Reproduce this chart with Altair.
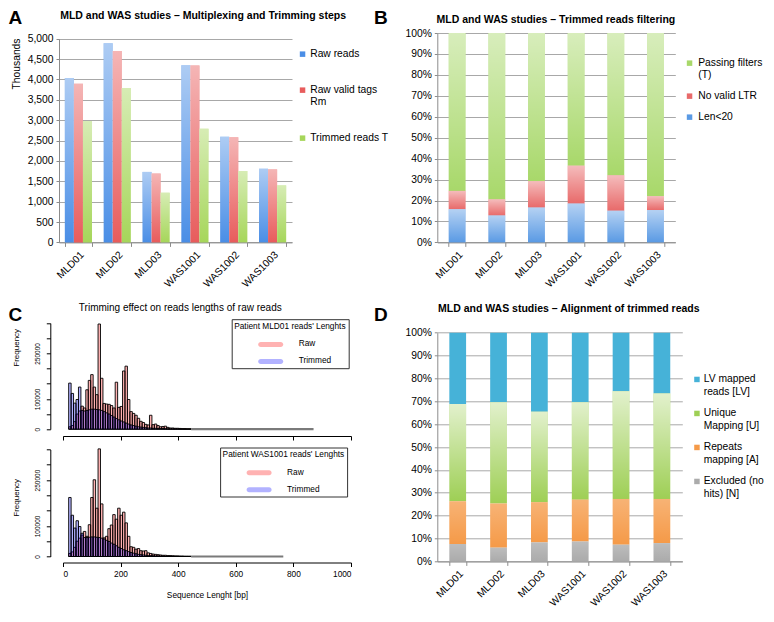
import altair as alt
import pandas as pd

FONT = "Liberation Sans"

samples = ["MLD01", "MLD02", "MLD03", "WAS1001", "WAS1002", "WAS1003"]

# ---------- Panel A (thousands of reads) ----------
raw_reads = [4033, 4890, 1730, 4347, 2594, 1808]
raw_valid_tags = [3892, 4701, 1690, 4340, 2579, 1792]
trimmed_reads = [2972, 3789, 1219, 2791, 1753, 1399]
a_series = ["Raw reads", "Raw valid tags Rm", "Trimmed reads T"]
a_colors = ["#4A8EE6", "#E85C5C", "#A6D65A"]

# ---------- Panel B (% of trimmed reads) ----------
len_lt20 = [15.8, 12.8, 16.6, 18.5, 15.1, 15.4]
no_valid_ltr = [8.8, 7.7, 12.6, 18.1, 16.9, 6.6]
passing_filters = [75.4, 79.5, 70.8, 63.4, 68.0, 78.0]
b_series = ["Passing filters (T)", "No valid LTR", "Len<20"]
b_colors = ["#A8D86A", "#E86A6A", "#5A9AE4"]

# ---------- Panel D (% of trimmed reads) ----------
excluded = [7.6, 6.0, 8.3, 8.7, 7.3, 8.0]
repeats = [18.7, 19.3, 17.6, 18.3, 20.0, 19.3]
unique = [42.5, 44.3, 39.5, 42.6, 47.1, 46.1]
lv_mapped = [31.2, 30.4, 34.6, 30.4, 25.6, 26.6]
d_series = ["LV mapped reads [LV]", "Unique Mapping [U]", "Repeats mapping [A]", "Excluded (no hits) [N]"]
d_colors = ["#46B2D8", "#9ECF55", "#F59A48", "#ABABAB"]
d_sheen = [0, 1, 0.35, 0.3]

# ---------- Panel C (read length histograms, thousands of reads per bin) ----------
bin_first = 20
bin_width = 8.5
mld01_raw = [8, 12, 25, 50, 60, 76, 70, 130, 161, 180,
             139, 114, 347, 168, 85, 83, 82, 78, 70, 155,
             72, 75, 192, 208, 98, 58, 52, 46, 36, 26,
             22, 16, 14, 46, 15, 17, 12, 8, 9, 10,
             6, 4, 4, 3, 3, 2.5, 2, 2, 1.5, 1.5]
mld01_trimmed = [152, 118, 86, 98, 139, 62, 60, 62, 64, 66,
                 66, 65, 64, 62, 58, 54, 50, 45, 40, 35,
                 31, 27, 24, 20, 17, 14, 12, 10, 8, 7,
                 6, 5, 4, 4, 3, 3, 2, 2, 2, 1.5,
                 1, 1, 1, 1, 0.8, 0.6, 0.5, 0.5, 0.4, 0.3]
was1001_raw = [10, 15, 30, 50, 60, 70, 82, 66, 104, 193,
               251, 158, 352, 172, 61, 66, 91, 103, 137, 122,
               158, 135, 145, 110, 66, 32, 30, 24, 26, 19,
               18, 19, 12, 10, 8, 7, 6, 5, 4, 4,
               3, 3, 2.5, 2, 2, 1.5, 1.5, 1, 1, 1]
was1001_trimmed = [193, 135, 93, 117, 98, 76, 62, 62, 63, 64,
                   64, 63, 62, 60, 57, 53, 49, 44, 40, 35,
                   30, 26, 22, 19, 16, 13, 11, 9, 7, 6,
                   5, 4, 3, 3, 2.5, 2, 2, 1.5, 1.5, 1,
                   1, 0.8, 0.7, 0.6, 0.5, 0.4, 0.4, 0.3, 0.3, 0.2]
max_length = {"MLD01": 870, "WAS1001": 765}
c_series = ["Raw", "Trimmed"]
c_colors = ["rgba(255,0,0,0.3)", "rgba(0,0,255,0.3)"]

# ---------------------------------------------------------------------------

def white_gradient(alpha):
    return {"gradient": "linear", "x1": 0, "x2": 0, "y1": 0, "y2": 1,
            "stops": [{"offset": 0, "color": f"rgba(255,255,255,{alpha})"},
                      {"offset": 1, "color": "rgba(255,255,255,0)"}]}


def multiline_expr(mapping):
    expr = "datum.label"
    for key, lines in mapping.items():
        arr = "[" + ", ".join("'" + l + "'" for l in lines) + "]"
        expr = f"datum.label == '{key}' ? {arr} : ({expr})"
    return expr


def text_layer(txt, x, y, size, weight="normal", align="center", baseline="middle"):
    return alt.Chart(pd.DataFrame({"t": [txt]})).mark_text(
        fontSize=size, fontWeight=weight, align=align, baseline=baseline,
        font=FONT, color="black").encode(text="t:N", x=alt.value(x), y=alt.value(y))


def excel_x_axis():
    return alt.Axis(title=None, labelAngle=-45, labelAlign="right", labelBaseline="top",
                    labelFontSize=10.3, labelColor="black", labelPadding=3,
                    tickBand="extent", tickSize=4, tickColor="#8c8c8c",
                    domainColor="#8c8c8c", grid=False)


def excel_y_axis(values, fmt, **kw):
    return alt.Axis(values=values, format=fmt, labelFontSize=10.3, labelColor="black",
                    labelPadding=3, tickSize=3, tickColor="#8c8c8c", domainColor="#8c8c8c",
                    grid=True, gridColor="#a8a8a8", gridWidth=1, **kw)


pct_values = [i / 10 for i in range(11)]

# ---------------- Panel A ----------------
rowsA = []
for ser, vals in zip(a_series, [raw_reads, raw_valid_tags, trimmed_reads]):
    for s, v in zip(samples, vals):
        rowsA.append({"sample": s, "series": ser, "value": v})
dfA = pd.DataFrame(rowsA)

A_W, A_H = 233, 209.4
xA = alt.X("sample:N", sort=samples, axis=excel_x_axis(),
           scale=alt.Scale(paddingInner=0.3, paddingOuter=0.15))
xoA = alt.XOffset("series:N", sort=a_series, scale=alt.Scale(paddingInner=0, paddingOuter=0))
yA = alt.Y("value:Q", scale=alt.Scale(domain=[0, 5000], range=[A_H, 5.7]),
           axis=excel_y_axis(list(range(0, 5001, 500)), ",d", title="Thousands",
                             titleFontSize=10.3, titleFontWeight="normal", titleX=-42.6,
                             titleY=30.5, titleAngle=270, titleAlign="center",
                             titleBaseline="middle"))
legA = alt.Legend(orient="none", legendX=238.4, legendY=16, title=None, labelFontSize=10.3,
                  labelColor="black", symbolType="square", symbolSize=30, symbolStrokeWidth=0,
                  labelOffset=2.5, rowPadding=25, padding=0,
                  labelExpr=multiline_expr({"Raw valid tags Rm": ["Raw valid tags", "Rm"]}))
barsA = alt.Chart(dfA).mark_bar().encode(
    x=xA, xOffset=xoA, y=yA,
    color=alt.Color("series:N", sort=a_series,
                    scale=alt.Scale(domain=a_series, range=a_colors), legend=legA))
overA = alt.Chart(dfA).mark_bar(fill=white_gradient(0.55)).encode(x=xA, xOffset=xoA, y=yA)
chartA = alt.layer(
    barsA, overA,
    text_layer("MLD and WAS studies \u2013 Multiplexing and Trimming steps", 144.1, -17.4, 10.5, "bold"),
    text_layer("A", -50.4, -9.5, 19, "bold", align="left", baseline="alphabetic"),
).properties(width=A_W, height=A_H)

# ---------------- Panel B ----------------
rowsB = []
for k, (ser, vals) in enumerate(zip(b_series, [passing_filters, no_valid_ltr, len_lt20])):
    for s, v in zip(samples, vals):
        rowsB.append({"sample": s, "series": ser, "value": v, "ord": 2 - k})
dfB = pd.DataFrame(rowsB)

B_W, B_H = 238, 209.4
xB = alt.X("sample:N", sort=samples, axis=excel_x_axis(),
           scale=alt.Scale(paddingInner=0.574, paddingOuter=0.287))
yB = alt.Y("value:Q", stack="normalize", scale=alt.Scale(domain=[0, 1]),
           axis=excel_y_axis(pct_values, ".0%", title=None))
oB = alt.Order("ord:Q", sort="ascending")
legB = alt.Legend(orient="none", legendX=247.1, legendY=25, title=None, labelFontSize=10.3,
                  labelColor="black", symbolType="square", symbolSize=30, symbolStrokeWidth=0,
                  labelOffset=3.5, rowPadding=10, padding=0,
                  labelExpr=multiline_expr({"Passing filters (T)": ["Passing filters", "(T)"]}))
barsB = alt.Chart(dfB).mark_bar().encode(
    x=xB, y=yB, order=oB,
    color=alt.Color("series:N", sort=b_series,
                    scale=alt.Scale(domain=b_series, range=b_colors), legend=legB))
overB = alt.Chart(dfB).mark_bar(fill=white_gradient(0.55)).encode(x=xB, y=yB, order=oB)
chartB = alt.layer(
    barsB, overB,
    text_layer("MLD and WAS studies \u2013 Trimmed reads filtering", 118.6, -13.5, 10.5, "bold"),
    text_layer("B", -63.3, -9.5, 19, "bold", align="left", baseline="alphabetic"),
).properties(width=B_W, height=B_H)

# ---------------- Panel D ----------------
rowsD = []
for k, (ser, vals) in enumerate(zip(d_series, [lv_mapped, unique, repeats, excluded])):
    for s, v in zip(samples, vals):
        rowsD.append({"sample": s, "series": ser, "value": v, "ord": 3 - k,
                      "sheen": d_sheen[k]})
dfD = pd.DataFrame(rowsD)

D_W, D_H = 245, 298.1
xD = alt.X("sample:N", sort=samples, axis=excel_x_axis(),
           scale=alt.Scale(paddingInner=0.59, paddingOuter=0.295))
yD = alt.Y("value:Q", stack="normalize", scale=alt.Scale(domain=[0, 1], range=[D_H, 69.4]),
           axis=excel_y_axis(pct_values, ".0%", title=None))
oD = alt.Order("ord:Q", sort="ascending")
legD = alt.Legend(orient="none", legendX=254.5, legendY=111, title=None, labelFontSize=10.3,
                  labelColor="black", symbolType="square", symbolSize=30, symbolStrokeWidth=0,
                  labelOffset=1.6, rowPadding=11, padding=0, symbolOpacity=1,
                  labelExpr=multiline_expr({
                      "LV mapped reads [LV]": ["LV mapped", "reads [LV]"],
                      "Unique Mapping [U]": ["Unique", "Mapping [U]"],
                      "Repeats mapping [A]": ["Repeats", "mapping [A]"],
                      "Excluded (no hits) [N]": ["Excluded (no", "hits) [N]"]}))
barsD = alt.Chart(dfD).mark_bar().encode(
    x=xD, y=yD, order=oD,
    color=alt.Color("series:N", sort=d_series,
                    scale=alt.Scale(domain=d_series, range=d_colors), legend=legD))
overD = alt.Chart(dfD).mark_bar(fill=white_gradient(0.7)).encode(
    x=xD, y=yD, order=oD, opacity=alt.Opacity("sheen:Q", scale=None, legend=None))
chartD = alt.layer(
    barsD, overD,
    text_layer("MLD and WAS studies \u2013 Alignment of trimmed reads", 131.5, 46, 10.5, "bold"),
    text_layer("D", -63.3, 57.8, 19, "bold", align="left", baseline="alphabetic"),
).properties(width=D_W, height=D_H)

# ---------------- Panel C (two stacked histograms in one view) ----------------
C_W = 233
C_H = 293.2
X_RANGE = [3.9, 292]


def hist_df(raw, trimmed):
    rows = []
    for ser, vals in zip(c_series, [raw, trimmed]):
        for i, v in enumerate(vals):
            lo = bin_first + i * bin_width
            rows.append({"lo": lo, "hi": lo + bin_width, "count": v * 1000, "series": ser})
    return pd.DataFrame(rows)


def hist_layer(raw, trimmed, patient, yrange, x_offset, show_labels, legend_xy, title_y):
    df = hist_df(raw, trimmed)
    xaxis = alt.Axis(orient="bottom", values=[0, 200, 400, 600, 800, 1000], labels=show_labels,
                     format="d", labelFontSize=8.3, labelColor="black", labelPadding=3,
                     tickSize=4, tickColor="black", domainColor="black", grid=False,
                     offset=x_offset,
                     title="Sequence Lenght [bp]" if show_labels else None,
                     titleFontSize=8.3, titleFontWeight="normal", titlePadding=13)
    yaxis = alt.Axis(orient="left", values=list(range(0, 350001, 50000)), format="d",
                     labelExpr="indexof([0, 100000, 250000], datum.value) >= 0 ? datum.label : ''",
                     labelAngle=270, labelAlign="center", labelBaseline="bottom",
                     labelFontSize=6.5, labelColor="black", labelPadding=6, tickSize=4,
                     tickColor="black", domainColor="black", grid=False, offset=8.7,
                     title="Frequency", titleFontSize=8, titleFontWeight="normal",
                     titleX=-33.6, titleY=title_y, titleAngle=270, titleAlign="center",
                     titleBaseline="middle")
    leg = alt.Legend(orient="none", legendX=legend_xy[0], legendY=legend_xy[1],
                     title=f"Patient {patient} reads' Lenghts", titleFontSize=8.3,
                     titleFontWeight="normal", titleColor="black", titlePadding=2,
                     labelFontSize=8.3, labelColor="black", strokeColor="#333",
                     fillColor="white", padding=2.5, rowPadding=1,
                     symbolType="M -0.8 -0.2 L 0.8 -0.2 A 0.2 0.2 0 0 1 0.8 0.2 L -0.8 0.2 A 0.2 0.2 0 0 1 -0.8 -0.2 Z",
                     symbolSize=625, symbolStrokeWidth=0, symbolOpacity=1,
                     symbolOffset=24, labelOffset=15.5)
    bars = alt.Chart(df).mark_rect(stroke="#000", strokeWidth=0.9).encode(
        x=alt.X("lo:Q", scale=alt.Scale(domain=[0, 1000], range=X_RANGE), axis=xaxis),
        x2="hi:Q",
        y=alt.Y("count:Q", scale=alt.Scale(domain=[0, 350000], range=yrange), axis=yaxis),
        y2=alt.datum(0),
        color=alt.Color("series:N", sort=c_series,
                        scale=alt.Scale(domain=c_series, range=c_colors), legend=leg))
    tail = alt.Chart(pd.DataFrame({"start": [bin_first + len(raw) * bin_width],
                                   "end": [max_length[patient]]})).mark_rule(
        color="#7a7a7a", strokeWidth=2.2).encode(x="start:Q", x2="end:Q", y=alt.datum(0))
    return alt.layer(bars, tail)


histTop = hist_layer(mld01_raw, mld01_trimmed, "MLD01", [165.9, 59.8],
                     -(C_H - 165.9) + 6.8, False, (172.7, 55.9), 84)
histBot = hist_layer(was1001_raw, was1001_trimmed, "WAS1001", [C_H, 186.2],
                     6.0, True, (161.1, 184.2), 234)
chartC = alt.layer(
    histTop, histBot,
    text_layer("Trimming effect on reads lengths of raw reads", 121.3, 44.3, 10),
    text_layer("C", -50.4, 57.8, 19, "bold", align="left", baseline="alphabetic"),
).resolve_scale(x="independent", y="independent", color="independent").properties(
    width=C_W, height=C_H)

chart = alt.concat(
    chartA, chartB, chartC, chartD,
    columns=2, spacing={"row": 20.3, "column": 145.3}, bounds="flush",
).resolve_scale(
    color="independent", x="independent", y="independent", xOffset="independent",
).resolve_legend(color="independent").properties(padding=0).configure(
    font=FONT).configure_view(stroke=None)

chart.save("out.html", embed_options={"renderer": "svg", "actions": False})
